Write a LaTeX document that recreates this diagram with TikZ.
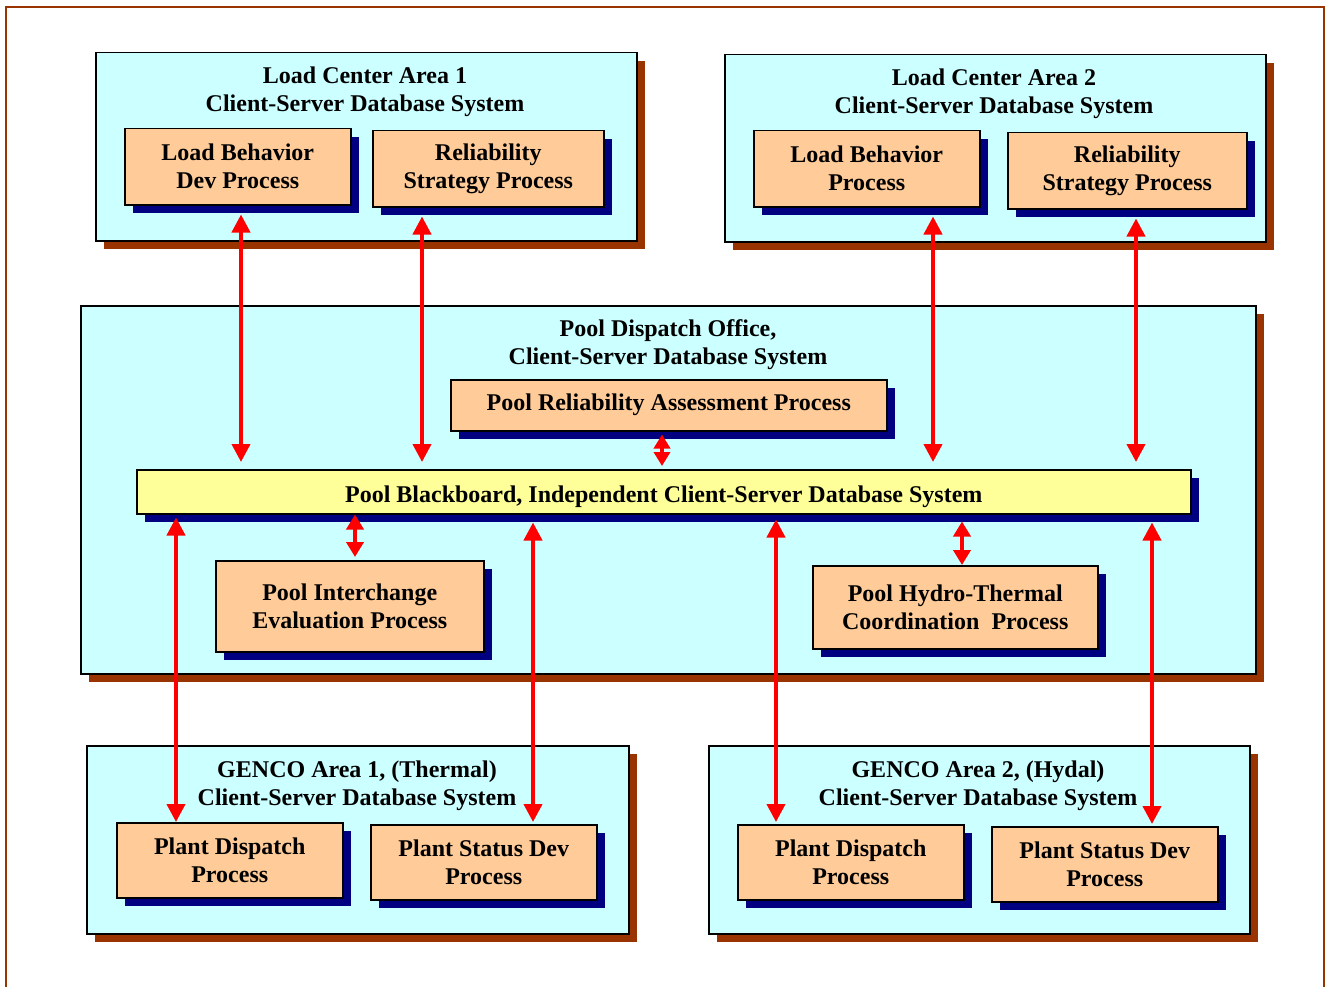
\documentclass[tikz,border=0pt]{standalone}
\usepackage{fontspec}
\setmainfont{Liberation Serif}
\usetikzlibrary{arrows.meta,shadows,calc}
\definecolor{cyanbg}{HTML}{CCFFFF}
\definecolor{orangebg}{HTML}{FFCC99}
\definecolor{yellowbg}{HTML}{FFFF99}
\definecolor{navysh}{HTML}{000080}
\definecolor{brownsh}{HTML}{993300}
\definecolor{arrred}{HTML}{FF0000}
\begin{document}
\begin{tikzpicture}[x=1pt,y=-1pt,
  every node/.style={font=\fontsize{24}{28}\selectfont\bfseries},
  area/.style={draw=black, line width=1.5pt, fill=cyanbg, rectangle, inner sep=0pt, anchor=north west,
    drop shadow={shadow xshift=8pt, shadow yshift=-8pt, fill=brownsh, opacity=1}},
  proc/.style={draw=black, line width=1.5pt, fill=orangebg, rectangle, inner sep=0pt, anchor=north west, align=center,
    drop shadow={shadow xshift=8pt, shadow yshift=-8pt, fill=navysh, opacity=1}},
  board/.style={proc, fill=yellowbg},
  title/.style={align=center, inner sep=0pt},
  link/.style={draw=arrred, line width=4pt, {Triangle[width=18pt,length=18pt]}-{Triangle[width=18pt,length=18pt]}},
  shortlink/.style={draw=arrred, line width=4pt, {Triangle[width=17pt,length=15pt]}-{Triangle[width=17pt,length=15pt]}},
  tinylink/.style={draw=arrred, line width=4pt, {Triangle[width=16pt,length=14pt]}-{Triangle[width=16pt,length=14pt]}},
  frame/.style={draw=brownsh, line width=2pt}
]
\useasboundingbox (0,0) rectangle (1327,987);
\draw[frame] (6,995) -- (6,7) -- (1324,7) -- (1324,995);

% area boxes
\node[area, minimum width=541pt, minimum height=188pt] (lc1) at (95,52) {};
\node[area, minimum width=541pt, minimum height=187pt] (lc2) at (724,54) {};
\node[area, minimum width=1175pt, minimum height=368pt] (pool) at (80,305) {};
\node[area, minimum width=542pt, minimum height=188pt] (g1) at (86,745) {};
\node[area, minimum width=541pt, minimum height=188pt] (g2) at (708,745) {};

% titles
\node[title] (lc1t) at (365,92) {Load Center Area 1\\Client-Server Database System};
\node[title] (lc2t) at (994,94) {Load Center Area 2\\Client-Server Database System};
\node[title] (poolt) at (668,345) {Pool Dispatch Office,\\Client-Server Database System};
\node[title] (g1t) at (357,786) {GENCO Area 1, (Thermal)\\Client-Server Database System};
\node[title] (g2t) at (978,786) {GENCO Area 2, (Hydal)\\Client-Server Database System};

% processes
\node[proc, minimum width=226pt, minimum height=76pt] (lbd1) at (124,128) {Load Behavior\\Dev Process};
\node[proc, minimum width=231pt, minimum height=76pt] (rs1) at (372,130) {Reliability\\Strategy Process};
\node[proc, minimum width=226pt, minimum height=76pt] (lb2) at (753,130) {Load Behavior\\Process};
\node[proc, minimum width=239pt, minimum height=76pt] (rs2) at (1007,132) {Reliability\\Strategy Process};
\node[proc, minimum width=436pt, minimum height=51pt] (pra) at (450,379) {Pool Reliability Assessment Process};
\node[board, minimum width=1054pt, minimum height=44pt, text depth=0pt] (bb) at (136,469) {\raisebox{-5pt}{Pool Blackboard, Independent Client-Server Database System}};
\node[proc, minimum width=268pt, minimum height=91pt] (pie) at (215,560) {Pool Interchange\\Evaluation Process};
\node[proc, minimum width=285pt, minimum height=83pt] (pht) at (812,565) {Pool Hydro-Thermal\\Coordination\ \ Process};
\node[proc, minimum width=226pt, minimum height=75pt] (pd1) at (116,822) {Plant Dispatch\\Process};
\node[proc, minimum width=226pt, minimum height=75pt] (ps1) at (370,824) {Plant Status Dev\\Process};
\node[proc, minimum width=226pt, minimum height=75pt] (pd2) at (737,824) {Plant Dispatch\\Process};
\node[proc, minimum width=226pt, minimum height=75pt] (ps2) at (991,826) {Plant Status Dev\\Process};

% connectors
\draw[link] ($(241,0 |- lbd1.south)+(0,9)$) -- ($(241,0 |- bb.north)+(0,-7)$);
\draw[link] ($(422,0 |- rs1.south)+(0,9)$) -- ($(422,0 |- bb.north)+(0,-7)$);
\draw[link] ($(933,0 |- lb2.south)+(0,9)$) -- ($(933,0 |- bb.north)+(0,-7)$);
\draw[link] ($(1136,0 |- rs2.south)+(0,9)$) -- ($(1136,0 |- bb.north)+(0,-7)$);
\draw[tinylink] ($(662,0 |- pra.south)+(0,3)$) -- ($(662,0 |- bb.north)+(0,-3)$);
\draw[shortlink] ($(355,0 |- bb.south)+(0,0)$) -- ($(355,0 |- pie.north)+(0,-3)$);
\draw[shortlink] ($(962,0 |- bb.south)+(0,7)$) -- ($(962,0 |- pht.north)+(0,0)$);
\draw[link] ($(176,0 |- bb.south)+(0,3)$) -- ($(176,0 |- pd1.north)+(0,0)$);
\draw[link] ($(533,0 |- bb.south)+(0,8)$) -- ($(533,0 |- ps1.north)+(0,-2)$);
\draw[link] ($(776,0 |- bb.south)+(0,5)$) -- ($(776,0 |- pd2.north)+(0,-2)$);
\draw[link] ($(1152,0 |- bb.south)+(0,8)$) -- ($(1152,0 |- ps2.north)+(0,-2)$);
\end{tikzpicture}
\end{document}
